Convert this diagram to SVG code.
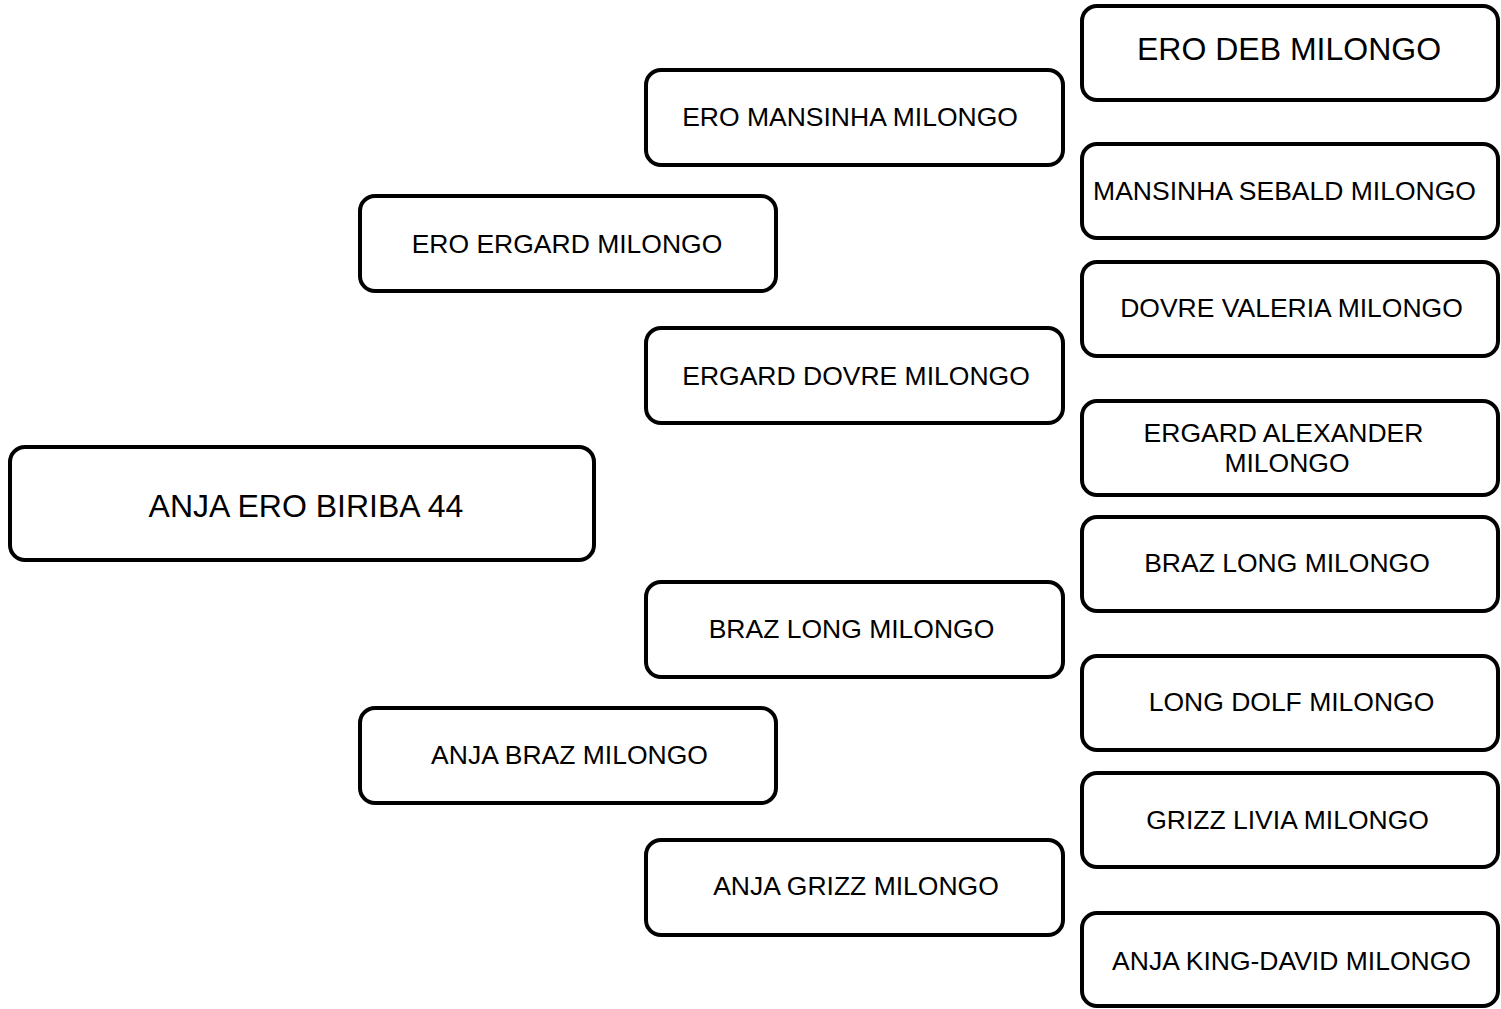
<svg xmlns="http://www.w3.org/2000/svg" width="1501" height="1009" viewBox="0 0 1501 1009">
<style>
.b{fill:#fff;stroke:#000;stroke-width:4}
.t{font-family:"Liberation Sans",Arial,sans-serif;font-size:26.5px;fill:#000;text-anchor:middle}
.L{font-size:32px}
</style>
<rect width="1501" height="1009" fill="#fff"/>
<g id="connectors"></g>
<g id="n0"><rect class="b" x="10" y="447" width="584" height="113" rx="15"/><text class="t L" x="306" y="516.5">ANJA ERO BIRIBA 44</text></g>
<g id="n1"><rect class="b" x="360" y="196" width="416" height="95" rx="15"/><text class="t" x="567" y="252.5">ERO ERGARD MILONGO</text></g>
<g id="n2"><rect class="b" x="360" y="708" width="416" height="95" rx="15"/><text class="t" x="569.5" y="763.5">ANJA BRAZ MILONGO</text></g>
<g id="n3"><rect class="b" x="646" y="70" width="417" height="95" rx="15"/><text class="t" x="850" y="125.5">ERO MANSINHA MILONGO</text></g>
<g id="n4"><rect class="b" x="646" y="328" width="417" height="95" rx="15"/><text class="t" x="856" y="384.5">ERGARD DOVRE MILONGO</text></g>
<g id="n5"><rect class="b" x="646" y="582" width="417" height="95" rx="15"/><text class="t" x="851.5" y="637.5">BRAZ LONG MILONGO</text></g>
<g id="n6"><rect class="b" x="646" y="840" width="417" height="95" rx="15"/><text class="t" x="856" y="894.5">ANJA GRIZZ MILONGO</text></g>
<g id="n7"><rect class="b" x="1082" y="6" width="416" height="94" rx="15"/><text class="t L" x="1289" y="59.5">ERO DEB MILONGO</text></g>
<g id="n8"><rect class="b" x="1082" y="144" width="416" height="94" rx="15"/><text class="t" x="1284.5" y="199.5">MANSINHA SEBALD MILONGO</text></g>
<g id="n9"><rect class="b" x="1082" y="262" width="416" height="94" rx="15"/><text class="t" x="1291.5" y="316.5">DOVRE VALERIA MILONGO</text></g>
<g id="n10"><rect class="b" x="1082" y="401" width="416" height="94" rx="15"/><text class="t" x="1283.5" y="441.5">ERGARD ALEXANDER</text><text class="t" x="1287" y="471.5">MILONGO</text></g>
<g id="n11"><rect class="b" x="1082" y="517" width="416" height="94" rx="15"/><text class="t" x="1287" y="571.5">BRAZ LONG MILONGO</text></g>
<g id="n12"><rect class="b" x="1082" y="656" width="416" height="94" rx="15"/><text class="t" x="1291.5" y="710.5">LONG DOLF MILONGO</text></g>
<g id="n13"><rect class="b" x="1082" y="773" width="416" height="94" rx="15"/><text class="t" x="1287.5" y="828.5">GRIZZ LIVIA MILONGO</text></g>
<g id="n14"><rect class="b" x="1082" y="913" width="416" height="93" rx="15"/><text class="t" x="1291.5" y="969.5">ANJA KING-DAVID MILONGO</text></g>
</svg>
